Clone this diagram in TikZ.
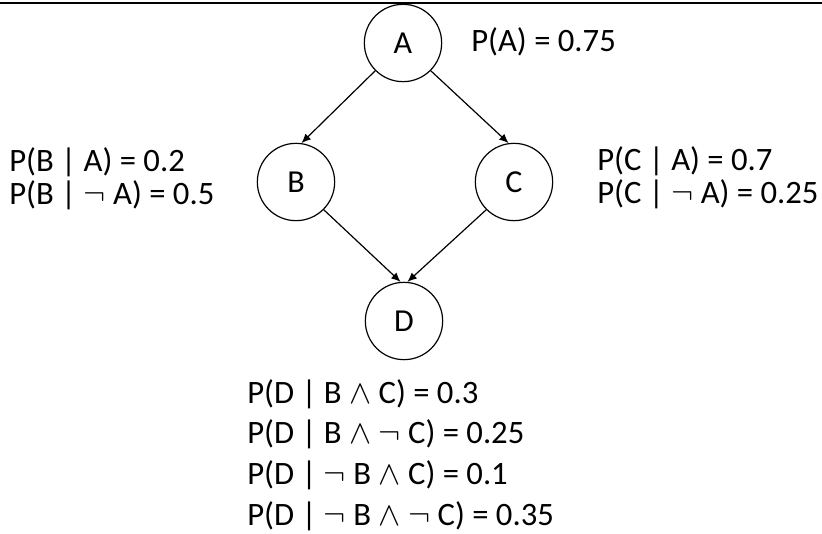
\documentclass[tikz,border=0pt]{standalone}
\usepackage{fontspec}
\setmainfont{Carlito}
\usetikzlibrary{arrows.meta}

\begin{document}
\begin{tikzpicture}[x=0.75pt,y=-0.75pt,
  var/.style={draw,circle,line width=0.9pt,minimum size=58pt,inner sep=0pt,font=\fontsize{24}{28}\selectfont},
  cpt/.style={anchor=west,inner sep=0pt,align=left},
  link/.style={line width=0.9pt,-{Latex[length=7pt,width=6pt]}}]
\useasboundingbox (0,0) rectangle (822,534);
\draw[line width=1.4pt] (0,3)--(822,3);
% the network
\node[var] (A) at (403,43) {A};
\node[var] (B) at (296,182) {B};
\node[var] (C) at (514,182) {C};
\node[var] (D) at (404,321) {D};
\draw[link] (A.225)--(B.82);
\draw[link] (A.-45)--(C.98);
\draw[link] (B.-45)--(D.95);
\draw[link] (C.225)--(D.85);
% probability tables
\node[cpt,font=\fontsize{24.5}{28}\selectfont] (pA) at (471,42) {P(A) = 0.75};
\node[cpt,font=\fontsize{24.5}{24.5}\selectfont] (pB) at (9,179)
  {P(B | A) = 0.2\\P(B | $\neg$ A) = 0.5};
\node[cpt,font=\fontsize{24.5}{24.5}\selectfont] (pC) at (597,178)
  {P(C | A) = 0.7\\P(C | $\neg$ A) = 0.25};
\node[cpt,font=\fontsize{24.5}{30.5}\selectfont] (pD) at (247,455)
  {P(D | B $\wedge$ C) = 0.3\\
   P(D | B $\wedge$ $\neg$ C) = 0.25\\
   P(D | $\neg$ B $\wedge$ C) = 0.1\\
   P(D | $\neg$ B $\wedge$ $\neg$ C) = 0.35};
\end{tikzpicture}
\end{document}
